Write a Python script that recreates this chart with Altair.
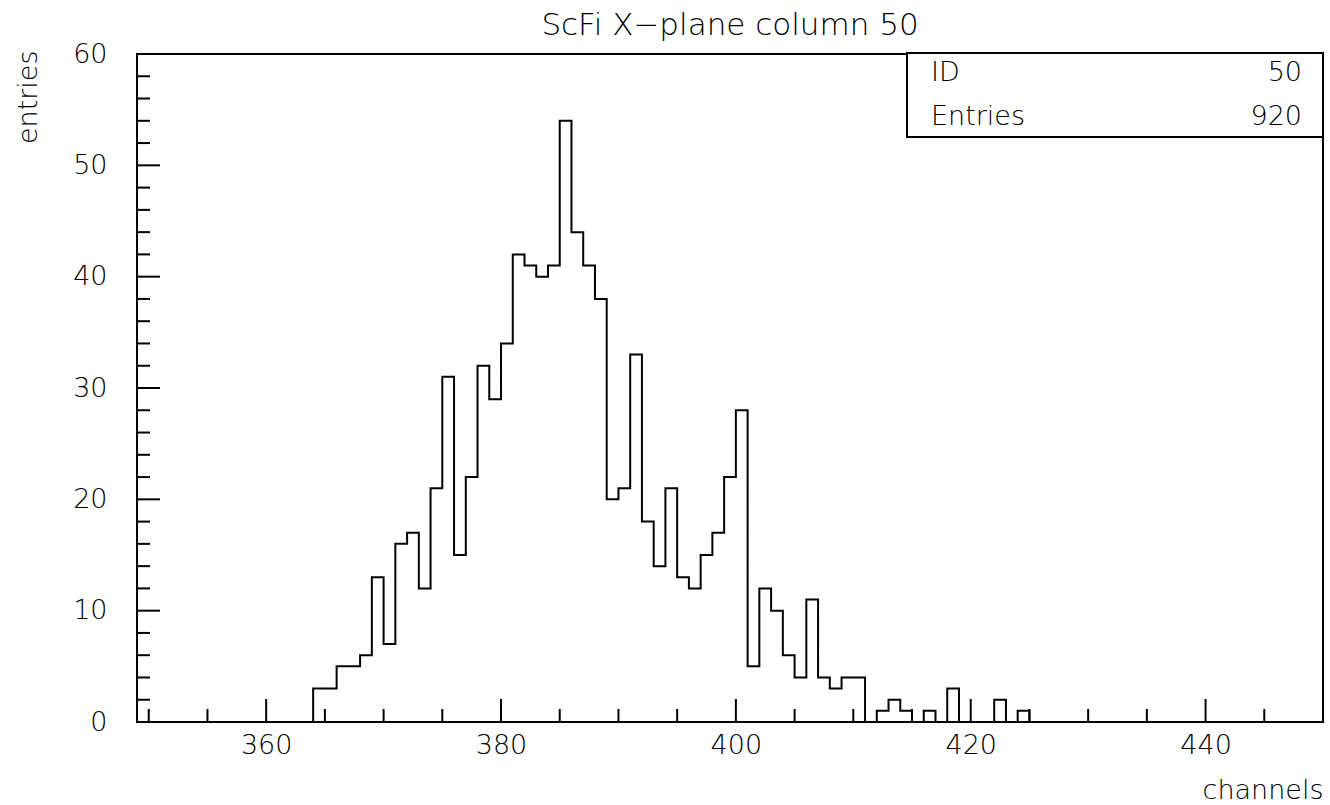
import altair as alt
import pandas as pd

# Occupied channels (lower bin edge, bin width 1) and their entry counts
channels = [364, 365, 366, 367, 368, 369, 370, 371, 372, 373, 374, 375, 376, 377, 378, 379,
            380, 381, 382, 383, 384, 385, 386, 387, 388, 389, 390, 391, 392, 393, 394, 395,
            396, 397, 398, 399, 400, 401, 402, 403, 404, 405, 406, 407, 408, 409, 410,
            412, 413, 414, 416, 418, 422, 424]
counts = [3, 3, 5, 5, 6, 13, 7, 16, 17, 12, 21, 31, 15, 22, 32, 29,
          34, 42, 41, 40, 41, 54, 44, 41, 38, 20, 21, 33, 18, 14, 21, 13,
          12, 15, 17, 22, 28, 5, 12, 10, 6, 4, 11, 4, 3, 4, 4,
          1, 2, 1, 1, 3, 2, 1]

histo_id = 50
title_text = "ScFi X\u2212plane column 50"

x_range = [349, 450]
y_range = [0, 60]
x_major = [360, 380, 400, 420, 440]
x_minor = [350, 355, 365, 370, 375, 385, 390, 395, 405, 410, 415, 425, 430, 435, 445]
y_major = [0, 10, 20, 30, 40, 50, 60]
y_minor = [2, 4, 6, 8, 12, 14, 16, 18, 22, 24, 26, 28, 32, 34, 36, 38,
           42, 44, 46, 48, 52, 54, 56, 58]

W, H = 1186, 668
FONT = "DejaVu Sans"
FS = 27
WEIGHT = 200

# Full bin table for a step outline (empty bins are zero)
lookup = dict(zip(channels, counts))
edges = list(range(x_range[0], x_range[1]))
steps = pd.DataFrame({
    "channel": edges + [x_range[1]],
    "entries": [lookup.get(c, 0) for c in edges] + [0],
})

xs = alt.Scale(domain=x_range, nice=False, zero=False)
ys = alt.Scale(domain=y_range, nice=False)

x_axis = alt.Axis(values=x_major, ticks=False, domain=False, grid=False,
                  labelFont=FONT, labelFontSize=FS, labelFontWeight=WEIGHT,
                  labelColor="black", labelPadding=10, labelFlush=False,
                  title="channels", titleFont=FONT, titleFontSize=FS,
                  titleFontWeight=WEIGHT, titleColor="black",
                  titleAlign="right", titleBaseline="middle",
                  titleX=W, titleY=68)
y_axis = alt.Axis(values=y_major, ticks=False, domain=False, grid=False,
                  labelFont=FONT, labelFontSize=FS, labelFontWeight=WEIGHT,
                  labelColor="black", labelPadding=30,
                  title="entries", titleFont=FONT, titleFontSize=FS,
                  titleFontWeight=WEIGHT, titleColor="black", titleAngle=270,
                  titleAlign="right", titleBaseline="middle",
                  titleX=-109, titleY=-4)

hist = alt.Chart(steps).mark_line(
    interpolate="step-after", color="black", strokeWidth=2
).encode(
    x=alt.X("channel:Q", scale=xs, axis=x_axis),
    y=alt.Y("entries:Q", scale=ys, axis=y_axis),
)

def xticks(vals, length):
    return alt.Chart(pd.DataFrame({"v": vals})).mark_rule(
        color="black", strokeWidth=2
    ).encode(x=alt.X("v:Q", scale=xs), y=alt.value(H), y2=alt.value(H - length))

def yticks(vals, length):
    return alt.Chart(pd.DataFrame({"v": vals})).mark_rule(
        color="black", strokeWidth=2
    ).encode(y=alt.Y("v:Q", scale=ys), x=alt.value(0), x2=alt.value(length))

one = alt.Data(values=[{}])

stats_box = alt.Chart(one).mark_rect(
    fill="white", stroke="black", strokeWidth=2
).encode(x=alt.value(770), x2=alt.value(W), y=alt.value(-1), y2=alt.value(83))

stats_rows = pd.DataFrame({
    "name": ["ID", "Entries"],
    "value": [str(histo_id), str(sum(counts))],
    "row": [0, 1],
})
stats_names = alt.Chart(stats_rows).mark_text(
    align="left", baseline="middle", font=FONT, fontSize=FS, fontWeight=WEIGHT,
    color="black"
).transform_calculate(py="19 + datum.row * 44").encode(
    x=alt.value(794), y=alt.Y("py:Q", scale=None), text="name:N"
)
stats_values = alt.Chart(stats_rows).mark_text(
    align="right", baseline="middle", font=FONT, fontSize=FS, fontWeight=WEIGHT,
    color="black"
).transform_calculate(py="19 + datum.row * 44").encode(
    x=alt.value(1165), y=alt.Y("py:Q", scale=None), text="value:N"
)

title = alt.Chart(one).mark_text(
    align="center", baseline="middle", font=FONT, fontSize=31, fontWeight=WEIGHT,
    color="black"
).encode(x=alt.value(W / 2), y=alt.value(-28), text=alt.value(title_text))

chart = alt.layer(
    hist,
    xticks(x_major, 23), xticks(x_minor, 13),
    yticks(y_major, 23), yticks(y_minor, 13),
    stats_box, stats_names, stats_values, title,
).properties(
    width=W, height=H,
    autosize=alt.AutoSizeParams(type="none"),
    padding={"left": 137, "top": 54, "right": 7, "bottom": 83},
    background="white",
).configure_view(stroke="black", strokeWidth=2)

chart.save("out.html", embed_options={"renderer": "svg", "actions": False})
